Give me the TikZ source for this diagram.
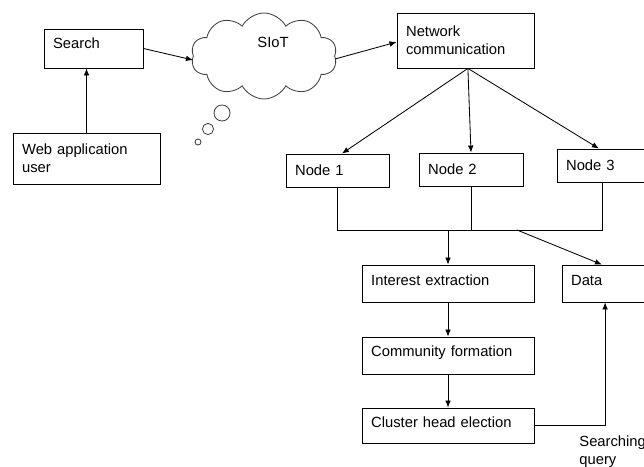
\documentclass[tikz,border=0pt]{standalone}
\usepackage{fontspec}
\setmainfont{Liberation Sans}
\usetikzlibrary{shapes.symbols, arrows.meta, positioning}

\newcommand\bHeigh{.925cm}
\tikzstyle{block} = [rectangle, draw=black, minimum height=\bHeigh, inner xsep=6.5pt, align=left, font=\fontsize{10.5}{12.8}\selectfont]
\tikzstyle{arrow} = [-{Latex[length=5pt,width=4pt]}]
\tikzstyle{bubble} = [cloud, draw=black!75, cloud puffs=10, cloud puff arc=125, inner sep=0, font=\fontsize{10.5}{12.8}\selectfont]

\begin{document}
\begin{tikzpicture} [line width=0.6pt, node distance=1.75cm]
\useasboundingbox (0,0) rectangle (16.1,-11.675);
\node (search) [block, text width=2.02cm, minimum height=.975cm, text depth=.25cm] at (2.3375,-1.2125) {Search};
\node (user) [block, text width=3.22cm, minimum height=1.275cm] at (2.1625,-3.9625) {Web application\\user};
\node (siot) [bubble, minimum width=3.65cm, minimum height=2.15cm, label={[xshift=.225cm, yshift=.35cm, font=\fontsize{10.5}{12.8}\selectfont]center:SIoT}] at (6.6,-1.4) {};
% thought bubbles under the cloud
\draw [black!75] (5.55,-2.825) circle (.2) (5.2,-3.225) circle (.14) (4.95,-3.55) circle (.075);
\node (net) [block, text width=2.97cm, minimum height=1.375cm] at (11.6375,-1.0125) {Network\\communication};

\node (n1) [block, text width=2.12cm, minimum height=.825cm] at (8.4375,-4.2625) {Node 1};
\node (n2) [block, text width=2.14cm, minimum height=.825cm] at (11.775,-4.2375) {Node 2};
\node (n3) [block, text width=2.12cm, minimum height=.825cm] at (15.2125,-4.1375) {Node 3};

\node (interest) [block, text width=3.84cm, text depth=.15cm] at (11.2,-7.0875) {Interest extraction};
\node (community) [block, text width=3.84cm, text depth=.2cm, below of=interest, yshift=-0.05cm] {Community formation};
\node (cluster) [block, text width=3.84cm, text depth=.15cm, minimum height=.875cm, below of=community] {Cluster head election};
\node (data) [block, text width=2.12cm, text depth=.15cm] at (15.3375,-7.0875) {Data};
\node (query) [anchor=north west, align=left, inner sep=0, font=\fontsize{10.5}{12.8}\selectfont] at (14.475,-10.875) {Searching\\query};

\coordinate (hub) at ([xshift=0.06cm]net.south);
\coordinate (bus) at (0,-5.75);
\coordinate (n3d) at ([xshift=-0.14cm]n3.south);

\draw [arrow] (user.north) -- (user.north |- search.south);
\draw [arrow] (search.east) -- ([yshift=-0.1cm]siot.west);
\draw [arrow] ([yshift=-0.075cm]siot.east) -- ([yshift=-0.04cm]net.west);
\draw [arrow] (hub) -- ([xshift=0.11cm]n1.north);
\draw [arrow] (hub) -- (n2.north);
\draw [arrow] (hub) -- ([xshift=-0.24cm]n3.north);
\draw (n1.south) |- (n3d |- bus) -- (n3d);
\draw (n2.south) -- (n2.south |- bus);
\draw [arrow] (interest.north |- bus) -- (interest);
\draw [arrow] (12.925,-5.75) -- ([xshift=-0.29cm]data.north);
\draw [arrow] (interest) -- (community);
\draw [arrow] (community) -- (cluster);
\draw [arrow] (cluster.east) -| ([xshift=-0.21cm]data.south);
\end{tikzpicture}
\end{document}
